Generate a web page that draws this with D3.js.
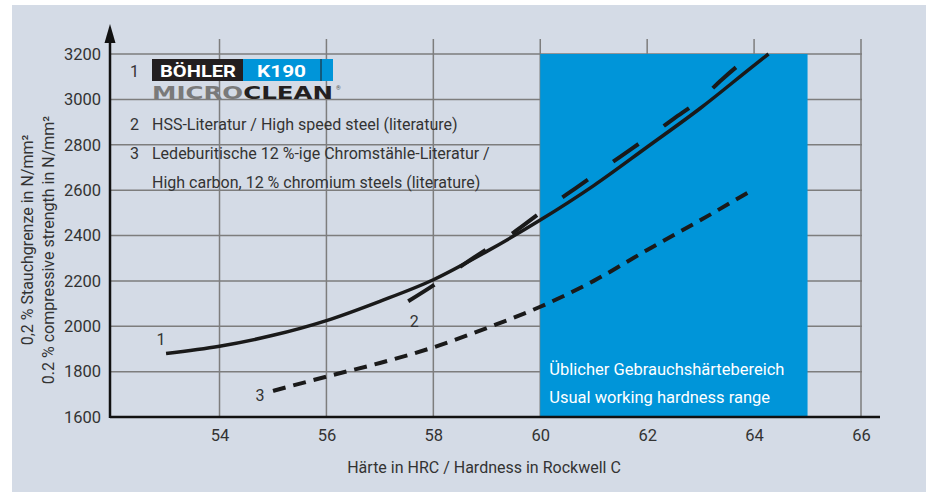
<!DOCTYPE html>
<html>
<head>
<meta charset="utf-8">
<script src="https://cdn.jsdelivr.net/npm/d3@7"></script>
<style>
  body { margin: 0; background: #fff; }
  text { font-family: Roboto, "Liberation Sans", sans-serif; }
</style>
</head>
<body>
<script>
// hardness (HRC) vs 0.2 % compressive strength (N/mm²)
const xTicks = [54, 56, 58, 60, 62, 64, 66];
const yTicks = [1600, 1800, 2000, 2200, 2400, 2600, 2800, 3000, 3200];

const k190 = [[53, 1880], [54, 1912], [55, 1960], [56, 2025], [57, 2110], [58, 2205], [59, 2330],
  [60, 2468], [61, 2620], [62, 2790], [63, 2962], [64, 3150], [64.27, 3200]];
const hss = [[57.53, 2110], [58, 2180], [58.5, 2262], [59, 2340], [59.5, 2413], [60, 2500], [60.5, 2582],
  [61, 2664], [61.5, 2748], [62, 2830], [62.5, 2915], [63, 3000], [63.4, 3088], [63.85, 3178]];
const chrom = [[55, 1715], [56, 1778], [57, 1838], [58, 1907], [59, 1992], [60, 2086], [61, 2200],
  [62, 2336], [63, 2468], [64, 2605]];

const workRange = [60, 65];
const legendLines = [
  ['2', 'HSS-Literatur / High speed steel (literature)'],
  ['3', 'Ledeburitische 12 %-ige Chromstähle-Literatur /'],
  ['', 'High carbon, 12 % chromium steels (literature)']
];

const W = 931, H = 492;
const svg = d3.select('body').append('svg').attr('width', W).attr('height', H);

// panel
svg.append('rect').attr('x', 12).attr('y', 5).attr('width', 914).attr('height', 487).attr('fill', '#d4dbe6');

const x = d3.scaleLinear().domain([52, 66]).range([112.6, 861]);
const y = d3.scaleLinear().domain([1600, 3200]).range([417, 54]);

// grid
const grid = svg.append('g').attr('stroke', '#7d7d7d').attr('stroke-width', 1.5);
grid.selectAll('.h').data(yTicks.slice(1)).enter().append('line')
  .attr('x1', 110).attr('x2', x(66) + 1).attr('y1', d => y(d)).attr('y2', d => y(d));
grid.selectAll('.v').data(xTicks).enter().append('line')
  .attr('x1', d => x(d)).attr('x2', d => x(d)).attr('y1', 39).attr('y2', 417);

// usual working hardness range
svg.append('rect')
  .attr('x', x(workRange[0])).attr('y', y(3200))
  .attr('width', x(workRange[1]) - x(workRange[0])).attr('height', y(1600) - y(3200))
  .attr('fill', '#0095d9');
svg.append('text').attr('x', x(60) + 9).attr('y', 375).attr('fill', '#fff').style('font-size', '16.5px')
  .text('Üblicher Gebrauchshärtebereich');
svg.append('text').attr('x', x(60) + 9).attr('y', 403).attr('fill', '#fff').style('font-size', '16.5px')
  .text('Usual working hardness range');

// axes lines
svg.append('line').attr('x1', 110).attr('x2', 880).attr('y1', 417).attr('y2', 417)
  .attr('stroke', '#111').attr('stroke-width', 2.5);
svg.append('line').attr('x1', 110).attr('x2', 110).attr('y1', 418).attr('y2', 40)
  .attr('stroke', '#111').attr('stroke-width', 2.5);
svg.append('path').attr('d', 'M110,24 L104.5,43 L115.5,43 Z').attr('fill', '#111');

// tick labels
const xAxis = svg.append('g').attr('transform', 'translate(0,417)')
  .call(d3.axisBottom(x).tickValues(xTicks).tickSize(0).tickPadding(12));
xAxis.select('.domain').remove();
xAxis.selectAll('text').style('font-size', '16.5px').attr('fill', '#333').style('font-family', 'Roboto, sans-serif');

const yAxis = svg.append('g').attr('transform', 'translate(110,0)')
  .call(d3.axisLeft(y).tickValues(yTicks).tickFormat(d3.format('d')).tickSize(0).tickPadding(9));
yAxis.select('.domain').remove();
yAxis.selectAll('text').style('font-size', '16.5px').attr('fill', '#333').style('font-family', 'Roboto, sans-serif');

// axis titles
svg.append('text').attr('x', 484).attr('y', 473).attr('text-anchor', 'middle')
  .attr('fill', '#333').style('font-size', '16px').text('Härte in HRC / Hardness in Rockwell C');
svg.append('text').attr('transform', 'translate(33,240) rotate(-90)').attr('text-anchor', 'middle')
  .attr('fill', '#333').style('font-size', '16px').text('0,2 % Stauchgrenze in N/mm²');
svg.append('text').attr('transform', 'translate(54,250) rotate(-90)').attr('text-anchor', 'middle')
  .attr('fill', '#333').style('font-size', '16px').text('0.2 % compressive strength in N/mm²');

// curves
const line = d3.line().x(d => x(d[0])).y(d => y(d[1])).curve(d3.curveMonotoneX);
svg.append('path').attr('d', line(k190)).attr('fill', 'none').attr('stroke', '#1a1a1a').attr('stroke-width', 3.5);
svg.append('path').attr('d', line(hss)).attr('fill', 'none').attr('stroke', '#1a1a1a').attr('stroke-width', 4)
  .attr('stroke-dasharray', '31,31');
svg.append('path').attr('d', line(chrom)).attr('fill', 'none').attr('stroke', '#1a1a1a').attr('stroke-width', 4)
  .attr('stroke-dasharray', '13,8');

// curve numbers
const nums = [['1', 53, 1880, -5, -8], ['2', 57.53, 2110, 6, 26], ['3', 55, 1715, -13, 10]];
svg.selectAll('.num').data(nums).enter().append('text')
  .attr('x', d => x(d[1]) + d[3]).attr('y', d => y(d[2]) + d[4])
  .attr('text-anchor', 'middle').attr('fill', '#333').style('font-size', '16px').text(d => d[0]);

// legend
const lg = svg.append('g');
lg.append('text').attr('x', 130).attr('y', 77).attr('fill', '#333').style('font-size', '16px').text('1');
lg.append('rect').attr('x', 152).attr('y', 59).attr('width', 91).attr('height', 22).attr('fill', '#231f20');
lg.append('rect').attr('x', 243).attr('y', 59).attr('width', 90).attr('height', 22).attr('fill', '#0095d9');
lg.append('line').attr('x1', 321).attr('x2', 321).attr('y1', 59).attr('y2', 81).attr('stroke', '#231f20').attr('stroke-width', 1);
lg.append('text').attr('x', 160).attr('y', 77).attr('fill', '#fff').style('font-size', '17px').style('font-weight', 'bold')
  .attr('textLength', 76).attr('lengthAdjust', 'spacingAndGlyphs').text('BÖHLER');
lg.append('text').attr('x', 257).attr('y', 77).attr('fill', '#fff').style('font-size', '17px').style('font-weight', 'bold')
  .attr('textLength', 49).attr('lengthAdjust', 'spacingAndGlyphs').text('K190');
const mc = lg.append('text').attr('x', 152).attr('y', 98.5).style('font-size', '17px').style('font-weight', 'bold')
  .style('font-family', '"DejaVu Sans", sans-serif')
  .attr('textLength', 181).attr('lengthAdjust', 'spacingAndGlyphs');
mc.append('tspan').attr('fill', '#7a7a7a').text('MICRO');
mc.append('tspan').attr('fill', '#231f20').text('CLEAN');
lg.append('text').attr('x', 336).attr('y', 90).attr('fill', '#555').style('font-size', '6px').text('®');

lg.selectAll('.li').data(legendLines).enter().append('g').each(function (d, i) {
  const g = d3.select(this);
  const yy = 130 + i * 29;
  g.append('text').attr('x', 130).attr('y', yy).attr('fill', '#333').style('font-size', '16px').text(d[0]);
  g.append('text').attr('x', 152).attr('y', yy).attr('fill', '#333').style('font-size', '16px').text(d[1]);
});
</script>
</body>
</html>
